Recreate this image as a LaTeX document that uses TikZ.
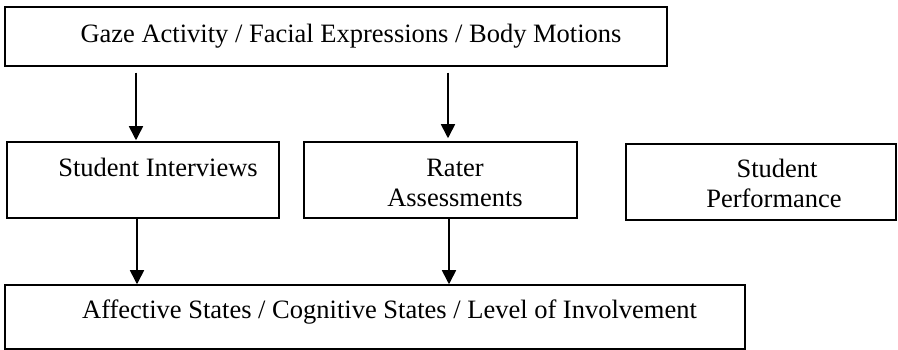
\documentclass[tikz,border=0pt]{standalone}
\usepackage{fontspec}
\setmainfont{Liberation Serif}
\usetikzlibrary{arrows.meta,fit}
\begin{document}
\begin{tikzpicture}[x=1pt,y=-1pt,
  box/.style={draw, line width=1.5pt, inner sep=0pt, fill=none},
  txt/.style={font=\fontsize{26.5}{30}\selectfont, inner sep=0pt, anchor=base, align=center},
  arr/.style={line width=1.6pt, -{Triangle[width=14pt,length=14pt]}}]
\useasboundingbox (0,0) rectangle (898,350);
% boxes
\node[box, fit={(5,7) (667,66)}] (top) {};
\node[box, fit={(7,142) (279,218)}] (si) {};
\node[box, fit={(304,142) (577,218)}] (ra) {};
\node[box, fit={(626,144) (896,220)}] (sp) {};
\node[box, fit={(5,285) (745,349)}] (bot) {};
% texts
\node[txt] (toptext) at (351,43) {Gaze Activity / Facial Expressions / Body Motions};
\node[txt] (sitext) at (158,177) {Student Interviews};
\node[txt] (ratext1) at (455,177) {Rater};
\node[txt] (ratext2) at (455,207) {Assessments};
\node[txt] (sptext1) at (777,178) {Student};
\node[txt] (sptext2) at (774,208) {Performance};
\node[txt] (bottext) at (389.5,318) {Affective States / Cognitive States / Level of Involvement};
% arrow columns
\coordinate (c1) at (136,0);
\coordinate (c2) at (448,0);
\coordinate (c3) at (137,0);
\coordinate (c4) at (449,0);
% arrows
\draw[arr] ([yshift=-6pt]top.south -| c1) -- ([yshift=1pt]si.north -| c1);
\draw[arr] ([yshift=-6pt]top.south -| c2) -- ([yshift=3pt]ra.north -| c2);
\draw[arr] (si.south -| c3) -- (bot.north -| c3);
\draw[arr] (ra.south -| c4) -- (bot.north -| c4);
\end{tikzpicture}
\end{document}
